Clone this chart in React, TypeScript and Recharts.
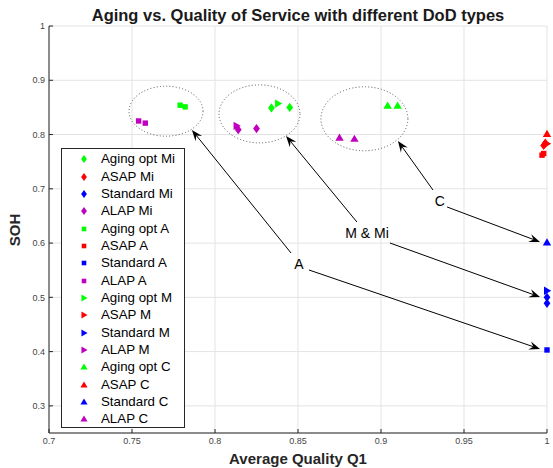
import React from 'react';
import { ScatterChart, Scatter, XAxis, YAxis, CartesianGrid, ReferenceLine, ReferenceDot } from 'recharts';

const xTicks = [0.7, 0.75, 0.8, 0.85, 0.9, 0.95, 1];
const yTicks = [0.3, 0.4, 0.5, 0.6, 0.7, 0.8, 0.9, 1];

const agingOptMi = [{ x: 0.834, y: 0.849 }, { x: 0.845, y: 0.850 }];
const asapMi = [{ x: 0.998, y: 0.780 }, { x: 0.999, y: 0.784 }];
const standardMi = [{ x: 1.0, y: 0.500 }, { x: 1.0, y: 0.489 }];
const alapMi = [{ x: 0.814, y: 0.809 }, { x: 0.825, y: 0.811 }];
const agingOptA = [{ x: 0.779, y: 0.854 }, { x: 0.782, y: 0.851 }];
const asapA = [{ x: 0.997, y: 0.762 }, { x: 0.998, y: 0.765 }];
const standardA = [{ x: 1.0, y: 0.403 }];
const alapA = [{ x: 0.754, y: 0.825 }, { x: 0.758, y: 0.821 }];
const agingOptM = [{ x: 0.838, y: 0.857 }];
const asapM = [{ x: 1.0, y: 0.783 }];
const standardM = [{ x: 1.0, y: 0.512 }];
const alapM = [{ x: 0.813, y: 0.816 }];
const agingOptC = [{ x: 0.904, y: 0.853 }, { x: 0.910, y: 0.853 }];
const asapC = [{ x: 1.0, y: 0.801 }];
const standardC = [{ x: 1.0, y: 0.601 }];
const alapC = [{ x: 0.875, y: 0.794 }, { x: 0.884, y: 0.792 }];

const seriesNames = [
  'Aging opt Mi', 'ASAP Mi', 'Standard Mi', 'ALAP Mi',
  'Aging opt A', 'ASAP A', 'Standard A', 'ALAP A',
  'Aging opt M', 'ASAP M', 'Standard M', 'ALAP M',
  'Aging opt C', 'ASAP C', 'Standard C', 'ALAP C',
];
const seriesData = [
  agingOptMi, asapMi, standardMi, alapMi,
  agingOptA, asapA, standardA, alapA,
  agingOptM, asapM, standardM, alapM,
  agingOptC, asapC, standardC, alapC,
];

// annotations (data coordinates)
const groupLabels = ['A', 'M & Mi', 'C'];
const groupCenters = [{ x: 0.7705, y: 0.843 }, { x: 0.8268, y: 0.838 }, { x: 0.890, y: 0.829 }];
const labelPoints = [{ x: 0.8506, y: 0.5615 }, { x: 0.8916, y: 0.6186 }, { x: 0.9355, y: 0.6775 }];
const arrowTails = [
  { x: 0.8458, y: 0.5817 }, { x: 0.8566, y: 0.5504 },
  { x: 0.8855, y: 0.6388 }, { x: 0.9054, y: 0.6001 },
  { x: 0.9313, y: 0.6978 }, { x: 0.9398, y: 0.6665 },
];
const arrowTips = [
  { x: 0.7861, y: 0.8084 }, { x: 0.9958, y: 0.4048 },
  { x: 0.8428, y: 0.7973 }, { x: 0.9958, y: 0.5006 },
  { x: 0.9102, y: 0.7881 }, { x: 0.9958, y: 0.6020 },
];

// styles
const palette = ['#00ff00', '#ff0000', '#0000ff', '#bf00bf'];
const markerKinds = ['diamond', 'square', 'triRight', 'triUp'];
const ellipseRadii = [[37, 25], [40.5, 29], [43.5, 32]];
const FONT = '"Liberation Sans", Arial, Helvetica, sans-serif';

function Marker({ kind, cx, cy, color, s = 1 }: any) {
  if (cx == null || cy == null) return null;
  let pts = '';
  if (kind === 'square') {
    const h = 2.7 * s;
    return <rect x={cx - h} y={cy - h} width={2 * h} height={2 * h} fill={color} />;
  }
  if (kind === 'diamond') {
    const w = 3.4 * s, h = 4.6 * s;
    pts = `${cx},${cy - h} ${cx + w},${cy} ${cx},${cy + h} ${cx - w},${cy}`;
  } else if (kind === 'triUp') {
    const w = 4.2 * s;
    pts = `${cx},${cy - 4.2 * s} ${cx + w},${cy + 3 * s} ${cx - w},${cy + 3 * s}`;
  } else {
    const h = 4.2 * s;
    pts = `${cx - 3 * s},${cy - h} ${cx + 4.2 * s},${cy} ${cx - 3 * s},${cy + h}`;
  }
  return <polygon points={pts} fill={color} />;
}

const Arrow = (p: any) => {
  const { x1, y1, x2, y2 } = p;
  const dx = x2 - x1, dy = y2 - y1;
  const len = Math.hypot(dx, dy) || 1;
  const ux = dx / len, uy = dy / len, nx = -uy, ny = ux;
  const L = 11, W = 4.2, I = 7;
  const bx = x2 - ux * L, by = y2 - uy * L;
  const pts = `${x2},${y2} ${bx + nx * W},${by + ny * W} ${x2 - ux * I},${y2 - uy * I} ${bx - nx * W},${by - ny * W}`;
  return (
    <g>
      <line x1={x1} y1={y1} x2={x2 - ux * I} y2={y2 - uy * I} stroke="#000" strokeWidth={1} />
      <polygon points={pts} fill="#000" />
    </g>
  );
};

export default function App() {
  return (
    <div style={{ position: 'relative', width: 553, height: 468, fontFamily: FONT, overflow: 'hidden' }}>
      <style>{'html,body{margin:0;padding:0;}'}</style>
      <div style={{ position: 'absolute', left: 298, top: 6, transform: 'translateX(-50%)', whiteSpace: 'nowrap', fontSize: 16.5, fontWeight: 'bold', lineHeight: '18px', color: '#1a1a1a' }}>
        Aging vs. Quality of Service with different DoD types
      </div>
      <div style={{ position: 'absolute', left: 8, top: 8 }}>
        <ScatterChart width={545} height={452} margin={{ top: 18, right: 6, left: 0, bottom: 0 }} style={{ fontFamily: FONT, overflow: 'visible' }}>
          <CartesianGrid stroke="#e3e3e3" />
          <XAxis
            type="number"
            dataKey="x"
            domain={[0.7, 1]}
            ticks={xTicks}
            interval={0}
            height={27}
            tickFormatter={(v: number) => String(v)}
            tick={{ fontSize: 9, fill: '#444' }}
            tickSize={-4}
            tickMargin={9}
            stroke="#262626"
          />
          <YAxis
            type="number"
            dataKey="y"
            domain={[0.25, 1]}
            ticks={yTicks}
            interval={0}
            width={41}
            tickFormatter={(v: number) => String(v)}
            tick={{ fontSize: 9, fill: '#444' }}
            tickSize={-4}
            tickMargin={8}
            stroke="#262626"
          />
          {seriesData.map((d, i) => (
            <Scatter
              key={seriesNames[i]}
              name={seriesNames[i]}
              data={d}
              isAnimationActive={false}
              shape={(p: any) => <Marker kind={markerKinds[Math.floor(i / 4)]} cx={p.cx} cy={p.cy} color={palette[i % 4]} />}
            />
          ))}
          {groupCenters.map((c, i) => (
            <ReferenceDot
              key={'e' + i}
              x={c.x}
              y={c.y}
              r={1}
              ifOverflow="visible"
              shape={(p: any) => (
                <ellipse cx={p.cx} cy={p.cy} rx={ellipseRadii[i][0]} ry={ellipseRadii[i][1]} fill="none" stroke="#555" strokeWidth={1} strokeDasharray="1 2.2" />
              )}
            />
          ))}
          {arrowTails.map((t, i) => (
            <ReferenceLine key={'a' + i} segment={[t, arrowTips[i]]} ifOverflow="visible" shape={Arrow} />
          ))}
          {labelPoints.map((c, i) => (
            <ReferenceDot
              key={'l' + i}
              x={c.x}
              y={c.y}
              r={1}
              ifOverflow="visible"
              shape={(p: any) => (
                <text x={p.cx} y={p.cy} textAnchor="middle" dominantBaseline="central" fontSize={14} fill="#000" fontFamily={FONT}>
                  {groupLabels[i]}
                </text>
              )}
            />
          ))}
        </ScatterChart>
      </div>
      <div style={{ position: 'absolute', left: 298, top: 450, transform: 'translateX(-50%)', whiteSpace: 'nowrap', fontSize: 15, fontWeight: 'bold', lineHeight: '17px', color: '#262626' }}>
        Average Quality Q1
      </div>
      <div style={{ position: 'absolute', left: 14, top: 230, transform: 'translate(-50%, -50%) rotate(-90deg)', whiteSpace: 'nowrap', fontSize: 15, fontWeight: 'bold', lineHeight: '17px', color: '#262626' }}>
        SOH
      </div>
      <div style={{ position: 'absolute', left: 60.5, top: 148, width: 124, height: 280, boxSizing: 'border-box', border: '1px solid #262626', background: '#fff' }}>
        {seriesNames.map((n, i) => (
          <div key={n} style={{ position: 'absolute', left: 0, top: 10.3 + i * 17.33 - 9, height: 18, width: '100%' }}>
            <svg width={30} height={18} style={{ position: 'absolute', left: 7, top: 0 }}>
              <Marker kind={markerKinds[Math.floor(i / 4)]} cx={15} cy={9} color={palette[i % 4]} s={0.85} />
            </svg>
            <span style={{ position: 'absolute', left: 39.5, top: 0, lineHeight: '18px', fontSize: 13.3, color: '#000', whiteSpace: 'nowrap' }}>{n}</span>
          </div>
        ))}
      </div>
    </div>
  );
}
